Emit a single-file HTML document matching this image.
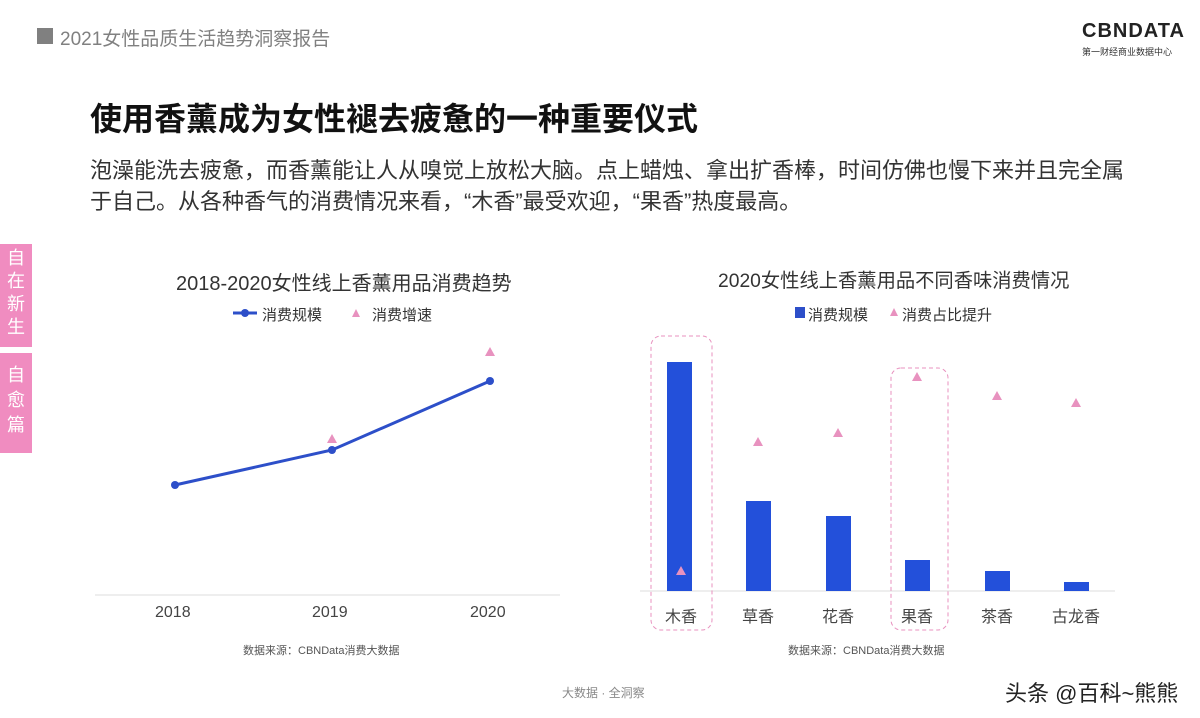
<!DOCTYPE html>
<html><head><meta charset="utf-8"><style>
body{margin:0;width:1200px;height:718px;background:#fff;overflow:hidden;position:relative;font-family:"Liberation Sans","Noto Sans CJK SC",sans-serif}
.a{position:absolute;white-space:nowrap}
</style></head><body>
<div class="a" style="left:37px;top:28px;width:16px;height:16px;background:#808080"></div>
<div class="a" style="left:60px;top:24px;font-size:19px;color:#808080">2021女性品质生活趋势洞察报告</div>
<div class="a" style="left:1082px;top:20px;font-size:20px;font-weight:bold;color:#222;letter-spacing:1px">CBNDATA</div>
<div class="a" style="left:1082px;top:45px;font-size:9px;color:#333">第一财经商业数据中心</div>
<div class="a" style="left:90px;top:94px;font-size:32px;font-weight:bold;color:#111">使用香薰成为女性褪去疲惫的一种重要仪式</div>
<div class="a" style="left:90px;top:155px;font-size:22px;color:#333;line-height:31px">泡澡能洗去疲惫，而香薰能让人从嗅觉上放松大脑。点上蜡烛、拿出扩香棒，时间仿佛也慢下来并且完全属<br>于自己。从各种香气的消费情况来看，“木香”最受欢迎，“果香”热度最高。</div>
<div class="a" style="left:0;top:244px;width:32px;height:100px;background:#f08cc0;color:#fff;font-size:18px;text-align:center;line-height:23px;padding-top:3px;white-space:normal">自<br>在<br>新<br>生</div>
<div class="a" style="left:0;top:353px;width:32px;height:90px;background:#f08cc0;color:#fff;font-size:18px;text-align:center;line-height:25px;padding-top:10px;white-space:normal">自<br>愈<br>篇</div>
<div class="a" style="left:176px;top:267px;font-size:20px;color:#333">2018-2020女性线上香薰用品消费趋势</div>
<div class="a" style="left:718px;top:265px;font-size:19.3px;color:#333">2020女性线上香薰用品不同香味消费情况</div>
<svg class="a" style="left:0;top:0" width="1200" height="718">
<line x1="233" y1="313" x2="257" y2="313" stroke="#2d4fc9" stroke-width="3"/><circle cx="245" cy="313" r="4" fill="#2d4fc9"/>
<polygon points="356,309 352,317 360,317" fill="#e892bf"/>
<rect x="795" y="307" width="10" height="11" fill="#2d4fc9"/>
<polygon points="894,308 890,316 898,316" fill="#e892bf"/>
<line x1="95" y1="595" x2="560" y2="595" stroke="#ddd"/>
<polyline points="175,485 332,450 490,381" fill="none" stroke="#2d4fc9" stroke-width="3"/>
<circle cx="175" cy="485" r="4" fill="#2d4fc9"/><circle cx="332" cy="450" r="4" fill="#2d4fc9"/><circle cx="490" cy="381" r="4" fill="#2d4fc9"/>
<polygon points="332,434 327,443 337,443" fill="#e892bf"/><polygon points="490,347 485,356 495,356" fill="#e892bf"/>
<line x1="640" y1="591" x2="1115" y2="591" stroke="#ddd"/>
<g fill="#2350da">
<rect x="667" y="362" width="25" height="229"/><rect x="746" y="501" width="25" height="90"/><rect x="826" y="516" width="25" height="75"/>
<rect x="905" y="560" width="25" height="31"/><rect x="985" y="571" width="25" height="20"/><rect x="1064" y="582" width="25" height="9"/></g>
<g fill="#e892bf">
<polygon points="681,566 676,575 686,575"/><polygon points="758,437 753,446 763,446"/><polygon points="838,428 833,437 843,437"/>
<polygon points="917,372 912,381 922,381"/><polygon points="997,391 992,400 1002,400"/><polygon points="1076,398 1071,407 1081,407"/></g>
<rect x="651" y="336" width="61" height="294" rx="10" fill="none" stroke="#e892bf" stroke-dasharray="4,3"/>
<rect x="891" y="368" width="57" height="262" rx="10" fill="none" stroke="#e892bf" stroke-dasharray="4,3"/>
</svg>
<div class="a" style="left:262px;top:304px;font-size:15px;color:#333">消费规模</div>
<div class="a" style="left:372px;top:304px;font-size:15px;color:#333">消费增速</div>
<div class="a" style="left:808px;top:304px;font-size:15px;color:#333">消费规模</div>
<div class="a" style="left:902px;top:304px;font-size:15px;color:#333">消费占比提升</div>
<div class="a" style="left:155px;top:604px;font-size:16px;color:#444">2018</div>
<div class="a" style="left:312px;top:604px;font-size:16px;color:#444">2019</div>
<div class="a" style="left:470px;top:604px;font-size:16px;color:#444">2020</div>
<div class="a" style="left:665px;top:603px;font-size:16px;color:#444">木香</div>
<div class="a" style="left:742px;top:603px;font-size:16px;color:#444">草香</div>
<div class="a" style="left:822px;top:603px;font-size:16px;color:#444">花香</div>
<div class="a" style="left:901px;top:603px;font-size:16px;color:#444">果香</div>
<div class="a" style="left:981px;top:603px;font-size:16px;color:#444">茶香</div>
<div class="a" style="left:1052px;top:603px;font-size:16px;color:#444">古龙香</div>
<div class="a" style="left:243px;top:642px;font-size:11px;color:#555">数据来源：CBNData消费大数据</div>
<div class="a" style="left:788px;top:642px;font-size:11px;color:#555">数据来源：CBNData消费大数据</div>
<div class="a" style="left:562px;top:684px;font-size:12px;color:#888">大数据 · 全洞察</div>
<div class="a" style="left:1102px;top:688px;font-size:10px;color:#888">40</div>
<div class="a" style="left:1005px;top:676px;font-size:22px;color:#222">头条 @百科~熊熊</div>
</body></html>
